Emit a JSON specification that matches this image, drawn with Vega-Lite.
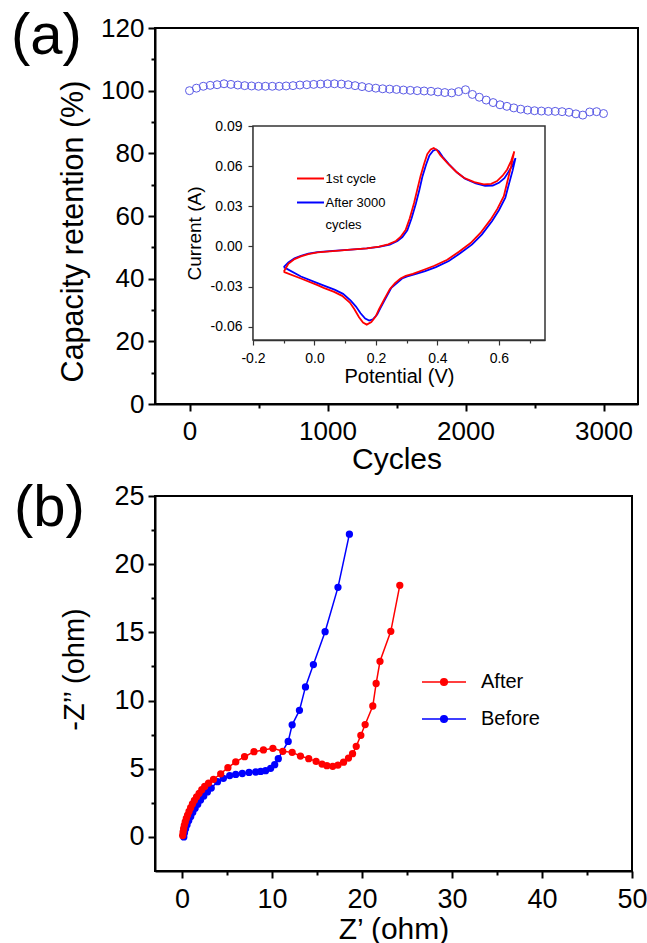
{
  "$schema": "https://vega.github.io/schema/vega-lite/v6.json",
  "background": "white",
  "padding": {"left": 10, "top": 7, "right": 0, "bottom": 0},
  "spacing": 3,
  "config": {
    "font": "Liberation Sans",
    "locale": {"number": {"decimal": ".", "thousands": ",", "grouping": [3], "currency": ["$", ""], "minus": "-"}},
    "view": {"stroke": "black", "strokeWidth": 2},
    "axis": {"labelFont": "Liberation Sans", "titleFont": "Liberation Sans", "titleFontWeight": "normal", "labelColor": "black", "titleColor": "black", "grid": false, "labelOverlap": false, "labelFlush": false, "domainColor": "black", "tickColor": "black"},
    "legend": {"labelFont": "Liberation Sans", "labelColor": "black"},
    "style": {"guide-label": {"lineHeight": 22}}
  },
  "datasets": {
    "retention": [
      {"cycle": 0, "retention": 100.0}, {"cycle": 50, "retention": 100.8}, {"cycle": 100, "retention": 101.4}, {"cycle": 150, "retention": 101.7},
      {"cycle": 200, "retention": 101.9}, {"cycle": 250, "retention": 102.2}, {"cycle": 300, "retention": 102.0}, {"cycle": 350, "retention": 101.8},
      {"cycle": 400, "retention": 101.6}, {"cycle": 450, "retention": 101.5}, {"cycle": 500, "retention": 101.4}, {"cycle": 550, "retention": 101.4},
      {"cycle": 600, "retention": 101.4}, {"cycle": 650, "retention": 101.4}, {"cycle": 700, "retention": 101.5}, {"cycle": 750, "retention": 101.6},
      {"cycle": 800, "retention": 101.8}, {"cycle": 850, "retention": 101.9}, {"cycle": 900, "retention": 102.0}, {"cycle": 950, "retention": 102.1},
      {"cycle": 1000, "retention": 102.2}, {"cycle": 1050, "retention": 102.2}, {"cycle": 1100, "retention": 102.1}, {"cycle": 1150, "retention": 101.9},
      {"cycle": 1200, "retention": 101.6}, {"cycle": 1250, "retention": 101.3}, {"cycle": 1300, "retention": 101.0}, {"cycle": 1350, "retention": 100.8},
      {"cycle": 1400, "retention": 100.6}, {"cycle": 1450, "retention": 100.5}, {"cycle": 1500, "retention": 100.4}, {"cycle": 1550, "retention": 100.2},
      {"cycle": 1600, "retention": 100.1}, {"cycle": 1650, "retention": 100.0}, {"cycle": 1700, "retention": 99.9}, {"cycle": 1750, "retention": 99.8},
      {"cycle": 1800, "retention": 99.6}, {"cycle": 1850, "retention": 99.4}, {"cycle": 1900, "retention": 99.3}, {"cycle": 1950, "retention": 99.7},
      {"cycle": 2000, "retention": 100.3}, {"cycle": 2050, "retention": 98.8}, {"cycle": 2100, "retention": 97.9}, {"cycle": 2150, "retention": 97.0},
      {"cycle": 2200, "retention": 96.2}, {"cycle": 2250, "retention": 95.5}, {"cycle": 2300, "retention": 95.0}, {"cycle": 2350, "retention": 94.5},
      {"cycle": 2400, "retention": 94.1}, {"cycle": 2450, "retention": 93.8}, {"cycle": 2500, "retention": 93.6}, {"cycle": 2550, "retention": 93.5},
      {"cycle": 2600, "retention": 93.4}, {"cycle": 2650, "retention": 93.4}, {"cycle": 2700, "retention": 93.3}, {"cycle": 2750, "retention": 93.1},
      {"cycle": 2800, "retention": 92.6}, {"cycle": 2850, "retention": 92.2}, {"cycle": 2900, "retention": 93.2}, {"cycle": 2950, "retention": 93.3},
      {"cycle": 3000, "retention": 92.7}
    ],
    "cv": [
      {"s": "After 3000 cycles", "o": 0, "v": -0.100, "i": -0.0155},
      {"s": "After 3000 cycles", "o": 1, "v": -0.085, "i": -0.0120},
      {"s": "After 3000 cycles", "o": 2, "v": -0.065, "i": -0.0090},
      {"s": "After 3000 cycles", "o": 3, "v": -0.044, "i": -0.0070},
      {"s": "After 3000 cycles", "o": 4, "v": -0.020, "i": -0.0055},
      {"s": "After 3000 cycles", "o": 5, "v": 0.010, "i": -0.0043},
      {"s": "After 3000 cycles", "o": 6, "v": 0.060, "i": -0.0033},
      {"s": "After 3000 cycles", "o": 7, "v": 0.118, "i": -0.0024},
      {"s": "After 3000 cycles", "o": 8, "v": 0.170, "i": -0.0015},
      {"s": "After 3000 cycles", "o": 9, "v": 0.210, "i": -0.0003},
      {"s": "After 3000 cycles", "o": 10, "v": 0.245, "i": 0.0013},
      {"s": "After 3000 cycles", "o": 11, "v": 0.270, "i": 0.0040},
      {"s": "After 3000 cycles", "o": 12, "v": 0.286, "i": 0.0070},
      {"s": "After 3000 cycles", "o": 13, "v": 0.302, "i": 0.0120},
      {"s": "After 3000 cycles", "o": 14, "v": 0.316, "i": 0.0210},
      {"s": "After 3000 cycles", "o": 15, "v": 0.330, "i": 0.0320},
      {"s": "After 3000 cycles", "o": 16, "v": 0.341, "i": 0.0420},
      {"s": "After 3000 cycles", "o": 17, "v": 0.351, "i": 0.0520},
      {"s": "After 3000 cycles", "o": 18, "v": 0.363, "i": 0.0610},
      {"s": "After 3000 cycles", "o": 19, "v": 0.374, "i": 0.0680},
      {"s": "After 3000 cycles", "o": 20, "v": 0.386, "i": 0.0715},
      {"s": "After 3000 cycles", "o": 21, "v": 0.396, "i": 0.0725},
      {"s": "After 3000 cycles", "o": 22, "v": 0.405, "i": 0.0710},
      {"s": "After 3000 cycles", "o": 23, "v": 0.417, "i": 0.0670},
      {"s": "After 3000 cycles", "o": 24, "v": 0.437, "i": 0.0615},
      {"s": "After 3000 cycles", "o": 25, "v": 0.465, "i": 0.0550},
      {"s": "After 3000 cycles", "o": 26, "v": 0.490, "i": 0.0505},
      {"s": "After 3000 cycles", "o": 27, "v": 0.525, "i": 0.0470},
      {"s": "After 3000 cycles", "o": 28, "v": 0.555, "i": 0.0453},
      {"s": "After 3000 cycles", "o": 29, "v": 0.580, "i": 0.0455},
      {"s": "After 3000 cycles", "o": 30, "v": 0.600, "i": 0.0475},
      {"s": "After 3000 cycles", "o": 31, "v": 0.618, "i": 0.0510},
      {"s": "After 3000 cycles", "o": 32, "v": 0.632, "i": 0.0560},
      {"s": "After 3000 cycles", "o": 33, "v": 0.645, "i": 0.0610},
      {"s": "After 3000 cycles", "o": 34, "v": 0.654, "i": 0.0660},
      {"s": "After 3000 cycles", "o": 35, "v": 0.645, "i": 0.0570},
      {"s": "After 3000 cycles", "o": 36, "v": 0.632, "i": 0.0460},
      {"s": "After 3000 cycles", "o": 37, "v": 0.621, "i": 0.0365},
      {"s": "After 3000 cycles", "o": 38, "v": 0.600, "i": 0.0270},
      {"s": "After 3000 cycles", "o": 39, "v": 0.578, "i": 0.0190},
      {"s": "After 3000 cycles", "o": 40, "v": 0.545, "i": 0.0090},
      {"s": "After 3000 cycles", "o": 41, "v": 0.513, "i": 0.0015},
      {"s": "After 3000 cycles", "o": 42, "v": 0.475, "i": -0.0050},
      {"s": "After 3000 cycles", "o": 43, "v": 0.437, "i": -0.0110},
      {"s": "After 3000 cycles", "o": 44, "v": 0.395, "i": -0.0155},
      {"s": "After 3000 cycles", "o": 45, "v": 0.360, "i": -0.0185},
      {"s": "After 3000 cycles", "o": 46, "v": 0.325, "i": -0.0210},
      {"s": "After 3000 cycles", "o": 47, "v": 0.302, "i": -0.0225},
      {"s": "After 3000 cycles", "o": 48, "v": 0.285, "i": -0.0240},
      {"s": "After 3000 cycles", "o": 49, "v": 0.268, "i": -0.0275},
      {"s": "After 3000 cycles", "o": 50, "v": 0.250, "i": -0.0310},
      {"s": "After 3000 cycles", "o": 51, "v": 0.231, "i": -0.0390},
      {"s": "After 3000 cycles", "o": 52, "v": 0.215, "i": -0.0460},
      {"s": "After 3000 cycles", "o": 53, "v": 0.204, "i": -0.0510},
      {"s": "After 3000 cycles", "o": 54, "v": 0.190, "i": -0.0545},
      {"s": "After 3000 cycles", "o": 55, "v": 0.178, "i": -0.0555},
      {"s": "After 3000 cycles", "o": 56, "v": 0.165, "i": -0.0540},
      {"s": "After 3000 cycles", "o": 57, "v": 0.150, "i": -0.0500},
      {"s": "After 3000 cycles", "o": 58, "v": 0.135, "i": -0.0450},
      {"s": "After 3000 cycles", "o": 59, "v": 0.118, "i": -0.0405},
      {"s": "After 3000 cycles", "o": 60, "v": 0.093, "i": -0.0355},
      {"s": "After 3000 cycles", "o": 61, "v": 0.067, "i": -0.0325},
      {"s": "After 3000 cycles", "o": 62, "v": 0.033, "i": -0.0295},
      {"s": "After 3000 cycles", "o": 63, "v": 0.010, "i": -0.0275},
      {"s": "After 3000 cycles", "o": 64, "v": -0.044, "i": -0.0225},
      {"s": "After 3000 cycles", "o": 65, "v": -0.100, "i": -0.0155},
      {"s": "1st cycle", "o": 0, "v": -0.100, "i": -0.0190},
      {"s": "1st cycle", "o": 1, "v": -0.085, "i": -0.0130},
      {"s": "1st cycle", "o": 2, "v": -0.065, "i": -0.0095},
      {"s": "1st cycle", "o": 3, "v": -0.044, "i": -0.0075},
      {"s": "1st cycle", "o": 4, "v": -0.020, "i": -0.0058},
      {"s": "1st cycle", "o": 5, "v": 0.010, "i": -0.0045},
      {"s": "1st cycle", "o": 6, "v": 0.060, "i": -0.0035},
      {"s": "1st cycle", "o": 7, "v": 0.118, "i": -0.0025},
      {"s": "1st cycle", "o": 8, "v": 0.170, "i": -0.0015},
      {"s": "1st cycle", "o": 9, "v": 0.210, "i": -0.0002},
      {"s": "1st cycle", "o": 10, "v": 0.240, "i": 0.0015},
      {"s": "1st cycle", "o": 11, "v": 0.265, "i": 0.0040},
      {"s": "1st cycle", "o": 12, "v": 0.280, "i": 0.0070},
      {"s": "1st cycle", "o": 13, "v": 0.297, "i": 0.0125},
      {"s": "1st cycle", "o": 14, "v": 0.310, "i": 0.0210},
      {"s": "1st cycle", "o": 15, "v": 0.324, "i": 0.0325},
      {"s": "1st cycle", "o": 16, "v": 0.335, "i": 0.0430},
      {"s": "1st cycle", "o": 17, "v": 0.345, "i": 0.0525},
      {"s": "1st cycle", "o": 18, "v": 0.357, "i": 0.0620},
      {"s": "1st cycle", "o": 19, "v": 0.367, "i": 0.0690},
      {"s": "1st cycle", "o": 20, "v": 0.378, "i": 0.0725},
      {"s": "1st cycle", "o": 21, "v": 0.388, "i": 0.0735},
      {"s": "1st cycle", "o": 22, "v": 0.398, "i": 0.0720},
      {"s": "1st cycle", "o": 23, "v": 0.410, "i": 0.0680},
      {"s": "1st cycle", "o": 24, "v": 0.432, "i": 0.0625},
      {"s": "1st cycle", "o": 25, "v": 0.460, "i": 0.0560},
      {"s": "1st cycle", "o": 26, "v": 0.486, "i": 0.0513},
      {"s": "1st cycle", "o": 27, "v": 0.520, "i": 0.0480},
      {"s": "1st cycle", "o": 28, "v": 0.551, "i": 0.0463},
      {"s": "1st cycle", "o": 29, "v": 0.575, "i": 0.0468},
      {"s": "1st cycle", "o": 30, "v": 0.594, "i": 0.0488},
      {"s": "1st cycle", "o": 31, "v": 0.612, "i": 0.0528},
      {"s": "1st cycle", "o": 32, "v": 0.627, "i": 0.0575},
      {"s": "1st cycle", "o": 33, "v": 0.640, "i": 0.0640},
      {"s": "1st cycle", "o": 34, "v": 0.650, "i": 0.0710},
      {"s": "1st cycle", "o": 35, "v": 0.640, "i": 0.0600},
      {"s": "1st cycle", "o": 36, "v": 0.627, "i": 0.0480},
      {"s": "1st cycle", "o": 37, "v": 0.616, "i": 0.0375},
      {"s": "1st cycle", "o": 38, "v": 0.595, "i": 0.0280},
      {"s": "1st cycle", "o": 39, "v": 0.573, "i": 0.0200},
      {"s": "1st cycle", "o": 40, "v": 0.540, "i": 0.0100},
      {"s": "1st cycle", "o": 41, "v": 0.508, "i": 0.0025},
      {"s": "1st cycle", "o": 42, "v": 0.470, "i": -0.0040},
      {"s": "1st cycle", "o": 43, "v": 0.432, "i": -0.0100},
      {"s": "1st cycle", "o": 44, "v": 0.390, "i": -0.0145},
      {"s": "1st cycle", "o": 45, "v": 0.356, "i": -0.0175},
      {"s": "1st cycle", "o": 46, "v": 0.320, "i": -0.0205},
      {"s": "1st cycle", "o": 47, "v": 0.297, "i": -0.0220},
      {"s": "1st cycle", "o": 48, "v": 0.280, "i": -0.0240},
      {"s": "1st cycle", "o": 49, "v": 0.262, "i": -0.0275},
      {"s": "1st cycle", "o": 50, "v": 0.245, "i": -0.0320},
      {"s": "1st cycle", "o": 51, "v": 0.226, "i": -0.0400},
      {"s": "1st cycle", "o": 52, "v": 0.210, "i": -0.0470},
      {"s": "1st cycle", "o": 53, "v": 0.199, "i": -0.0525},
      {"s": "1st cycle", "o": 54, "v": 0.185, "i": -0.0565},
      {"s": "1st cycle", "o": 55, "v": 0.170, "i": -0.0585},
      {"s": "1st cycle", "o": 56, "v": 0.158, "i": -0.0570},
      {"s": "1st cycle", "o": 57, "v": 0.145, "i": -0.0530},
      {"s": "1st cycle", "o": 58, "v": 0.130, "i": -0.0470},
      {"s": "1st cycle", "o": 59, "v": 0.115, "i": -0.0420},
      {"s": "1st cycle", "o": 60, "v": 0.090, "i": -0.0370},
      {"s": "1st cycle", "o": 61, "v": 0.064, "i": -0.0340},
      {"s": "1st cycle", "o": 62, "v": 0.030, "i": -0.0310},
      {"s": "1st cycle", "o": 63, "v": 0.010, "i": -0.0290},
      {"s": "1st cycle", "o": 64, "v": -0.044, "i": -0.0240},
      {"s": "1st cycle", "o": 65, "v": -0.100, "i": -0.0190}
    ],
    "eis": [
      {"s": "Before", "o": 0, "x": 0.20, "y": 0.00}, {"s": "Before", "o": 1, "x": 0.28, "y": 0.30}, {"s": "Before", "o": 2, "x": 0.40, "y": 0.60},
      {"s": "Before", "o": 3, "x": 0.56, "y": 0.90}, {"s": "Before", "o": 4, "x": 0.75, "y": 1.20}, {"s": "Before", "o": 5, "x": 0.97, "y": 1.50},
      {"s": "Before", "o": 6, "x": 1.20, "y": 1.80}, {"s": "Before", "o": 7, "x": 1.46, "y": 2.10}, {"s": "Before", "o": 8, "x": 1.75, "y": 2.40},
      {"s": "Before", "o": 9, "x": 2.06, "y": 2.70}, {"s": "Before", "o": 10, "x": 2.42, "y": 3.00}, {"s": "Before", "o": 11, "x": 2.82, "y": 3.30},
      {"s": "Before", "o": 12, "x": 3.25, "y": 3.58}, {"s": "Before", "o": 13, "x": 3.95, "y": 4.05}, {"s": "Before", "o": 14, "x": 4.60, "y": 4.30},
      {"s": "Before", "o": 15, "x": 5.30, "y": 4.50}, {"s": "Before", "o": 16, "x": 5.97, "y": 4.58}, {"s": "Before", "o": 17, "x": 6.70, "y": 4.65},
      {"s": "Before", "o": 18, "x": 7.45, "y": 4.73}, {"s": "Before", "o": 19, "x": 8.19, "y": 4.76}, {"s": "Before", "o": 20, "x": 8.74, "y": 4.80},
      {"s": "Before", "o": 21, "x": 9.29, "y": 4.86}, {"s": "Before", "o": 22, "x": 9.85, "y": 5.03}, {"s": "Before", "o": 23, "x": 10.30, "y": 5.30},
      {"s": "Before", "o": 24, "x": 10.70, "y": 5.74}, {"s": "Before", "o": 25, "x": 11.80, "y": 7.00}, {"s": "Before", "o": 26, "x": 12.24, "y": 8.22},
      {"s": "Before", "o": 27, "x": 13.05, "y": 9.28}, {"s": "Before", "o": 28, "x": 13.72, "y": 11.00}, {"s": "Before", "o": 29, "x": 14.60, "y": 12.64},
      {"s": "Before", "o": 30, "x": 15.90, "y": 15.05}, {"s": "Before", "o": 31, "x": 17.33, "y": 18.30}, {"s": "Before", "o": 32, "x": 18.60, "y": 22.20},
      {"s": "After", "o": 0, "x": 0.07, "y": 0.10}, {"s": "After", "o": 1, "x": 0.12, "y": 0.35}, {"s": "After", "o": 2, "x": 0.18, "y": 0.60},
      {"s": "After", "o": 3, "x": 0.26, "y": 0.85}, {"s": "After", "o": 4, "x": 0.36, "y": 1.10}, {"s": "After", "o": 5, "x": 0.48, "y": 1.35},
      {"s": "After", "o": 6, "x": 0.62, "y": 1.60}, {"s": "After", "o": 7, "x": 0.78, "y": 1.87}, {"s": "After", "o": 8, "x": 0.96, "y": 2.14},
      {"s": "After", "o": 9, "x": 1.16, "y": 2.42}, {"s": "After", "o": 10, "x": 1.38, "y": 2.68}, {"s": "After", "o": 11, "x": 1.62, "y": 2.94},
      {"s": "After", "o": 12, "x": 1.90, "y": 3.20}, {"s": "After", "o": 13, "x": 2.20, "y": 3.46}, {"s": "After", "o": 14, "x": 2.52, "y": 3.70},
      {"s": "After", "o": 15, "x": 2.95, "y": 3.95}, {"s": "After", "o": 16, "x": 3.50, "y": 4.22}, {"s": "After", "o": 17, "x": 4.30, "y": 4.63},
      {"s": "After", "o": 18, "x": 5.10, "y": 5.08}, {"s": "After", "o": 19, "x": 5.97, "y": 5.50}, {"s": "After", "o": 20, "x": 6.95, "y": 5.88},
      {"s": "After", "o": 21, "x": 8.00, "y": 6.25}, {"s": "After", "o": 22, "x": 9.05, "y": 6.38}, {"s": "After", "o": 23, "x": 10.10, "y": 6.50},
      {"s": "After", "o": 24, "x": 11.20, "y": 6.28}, {"s": "After", "o": 25, "x": 12.24, "y": 6.20}, {"s": "After", "o": 26, "x": 13.16, "y": 5.93},
      {"s": "After", "o": 27, "x": 14.08, "y": 5.74}, {"s": "After", "o": 28, "x": 14.90, "y": 5.54}, {"s": "After", "o": 29, "x": 15.56, "y": 5.34},
      {"s": "After", "o": 30, "x": 16.10, "y": 5.22}, {"s": "After", "o": 31, "x": 16.75, "y": 5.18}, {"s": "After", "o": 32, "x": 17.33, "y": 5.27},
      {"s": "After", "o": 33, "x": 17.95, "y": 5.48}, {"s": "After", "o": 34, "x": 18.50, "y": 5.78}, {"s": "After", "o": 35, "x": 18.95, "y": 6.10},
      {"s": "After", "o": 36, "x": 19.36, "y": 6.64}, {"s": "After", "o": 37, "x": 19.87, "y": 7.45}, {"s": "After", "o": 38, "x": 20.35, "y": 8.24},
      {"s": "After", "o": 39, "x": 21.20, "y": 9.60}, {"s": "After", "o": 40, "x": 21.57, "y": 11.25}, {"s": "After", "o": 41, "x": 22.00, "y": 12.88},
      {"s": "After", "o": 42, "x": 23.20, "y": 15.08}, {"s": "After", "o": 43, "x": 24.20, "y": 18.45}
    ]
  },
  "resolve": {"scale": {"color": "independent", "stroke": "independent", "fill": "independent"}},
  "vconcat": [
    {
      "width": 483,
      "height": 376,
      "title": {"text": "(a)", "anchor": "start", "frame": "group", "orient": "top", "offset": 0, "fontSize": 58, "font": "Liberation Sans", "fontWeight": "normal", "color": "black", "dx": -144, "dy": 51},
      "layer": [
        {
          "data": {"name": "retention"},
          "mark": {"type": "point", "shape": "circle", "filled": false, "size": 64, "strokeWidth": 1, "color": "#5b5be6", "opacity": 1},
          "encoding": {
            "x": {"field": "cycle", "type": "quantitative", "scale": {"domain": [-250, 3250], "nice": false, "zero": false},
              "axis": {"title": "Cycles", "orient": "bottom", "values": [0, 500, 1000, 1500, 2000, 2500, 3000], "format": "d",
                "labelExpr": "datum.value % 1000 == 0 ? datum.label : ''",
                "tickSize": {"condition": {"test": "datum.value % 1000 == 0", "value": 7}, "value": 4},
                "tickWidth": 2, "domainWidth": 2, "labelFontSize": 26, "titleFontSize": 30, "labelPadding": 7.5, "titlePadding": 0}},
            "y": {"field": "retention", "type": "quantitative", "scale": {"domain": [0, 120], "nice": false, "zero": false},
              "axis": {"title": "Capacity retention (%)", "orient": "left", "values": [0, 10, 20, 30, 40, 50, 60, 70, 80, 90, 100, 110, 120],
                "labelExpr": "datum.value % 20 == 0 ? datum.label : ''",
                "tickSize": {"condition": {"test": "datum.value % 20 == 0", "value": 7}, "value": 4},
                "tickWidth": 2, "domainWidth": 2, "labelFontSize": 26, "titleFontSize": 30.5, "labelPadding": 4, "titlePadding": 14, "titleX": -67, "titleY": 203}}
          }
        },
        {
          "layer": [
            {
              "data": {"values": [{}]},
              "mark": {"type": "rect", "fill": "white", "stroke": "#333333", "strokeWidth": 1.5},
              "encoding": {
                "x": {"datum": -0.2, "type": "quantitative", "title": "Potential (V)"},
                "x2": {"datum": 0.75},
                "y": {"datum": -0.07, "type": "quantitative", "title": "Current (A)"},
                "y2": {"datum": 0.09}
              }
            },
            {
              "data": {"name": "cv"},
              "mark": {"type": "line", "strokeWidth": 1.8, "interpolate": "linear"},
              "encoding": {
                "x": {"field": "v", "type": "quantitative", "scale": {"domain": [-0.2, 0.75], "range": [98, 390], "nice": false, "zero": false},
                  "axis": {"title": "Potential (V)", "orient": "bottom", "offset": -64, "values": [-0.2, -0.1, 0, 0.1, 0.2, 0.3, 0.4, 0.5, 0.6, 0.7], "format": ".1f",
                    "labelExpr": "abs(round(datum.value*10)) % 2 == 0 ? datum.label : ''",
                    "tickSize": {"condition": {"test": "abs(round(datum.value*10)) % 2 == 0", "value": 5}, "value": 3},
                    "domainColor": "#333333", "domainWidth": 1.5, "tickColor": "#333333", "tickWidth": 1.2,
                    "labelFontSize": 14, "titleFontSize": 20, "labelPadding": 6, "titlePadding": 1}},
                "y": {"field": "i", "type": "quantitative", "scale": {"domain": [-0.07, 0.09], "range": [312, 98], "nice": false, "zero": false},
                  "axis": {"title": "Current (A)", "orient": "left", "offset": -98, "values": [-0.06, -0.045, -0.03, -0.015, 0, 0.015, 0.03, 0.045, 0.06, 0.075, 0.09], "format": ".2f",
                    "labelExpr": "abs(round(datum.value*1000/15)) % 2 == 0 ? datum.label : ''",
                    "tickSize": {"condition": {"test": "abs(round(datum.value*1000/15)) % 2 == 0", "value": 5}, "value": 3},
                    "domainColor": "#333333", "domainWidth": 1.5, "tickColor": "#333333", "tickWidth": 1.2,
                    "labelFontSize": 14, "titleFontSize": 19, "labelPadding": 6, "titlePadding": 6}},
                "color": {"field": "s", "type": "nominal", "scale": {"domain": ["1st cycle", "After 3000 cycles"], "range": ["#ff0000", "#0000ff"]},
                  "legend": {"title": null, "orient": "none", "legendX": 141, "legendY": 136, "padding": 0, "symbolType": "stroke", "symbolSize": 729, "symbolStrokeWidth": 2,
                    "labelFontSize": 13, "labelOffset": 0.5, "rowPadding": 2,
                    "labelExpr": "datum.label == 'After 3000 cycles' ? ['After 3000', ' cycles'] : datum.label"}},
                "order": {"field": "o", "type": "quantitative"}
              }
            }
          ]
        }
      ],
      "resolve": {"scale": {"x": "independent", "y": "independent"}}
    },
    {
      "width": 477,
      "height": 375,
      "title": {"text": "(b)", "anchor": "start", "frame": "group", "orient": "top", "offset": 0, "fontSize": 58, "font": "Liberation Sans", "fontWeight": "normal", "color": "black", "dx": -141, "dy": 56},
      "data": {"name": "eis"},
      "encoding": {
        "x": {"field": "x", "type": "quantitative", "scale": {"domain": [-3, 50], "nice": false, "zero": false},
          "axis": {"title": "Z’ (ohm)", "orient": "bottom", "values": [0, 5, 10, 15, 20, 25, 30, 35, 40, 45, 50],
            "labelExpr": "datum.value % 10 == 0 ? datum.label : ''",
            "tickSize": {"condition": {"test": "datum.value % 10 == 0", "value": 7}, "value": 4},
            "tickWidth": 2, "domainWidth": 2, "labelFontSize": 27, "titleFontSize": 30, "labelPadding": 8, "titlePadding": 2}},
        "y": {"field": "y", "type": "quantitative", "scale": {"domain": [-2.5, 25], "nice": false, "zero": false},
          "axis": {"title": "-Z’’ (ohm)", "orient": "left", "values": [0, 2.5, 5, 7.5, 10, 12.5, 15, 17.5, 20, 22.5, 25],
            "labelExpr": "datum.value % 5 == 0 ? datum.label : ''",
            "tickSize": {"condition": {"test": "datum.value % 5 == 0", "value": 7}, "value": 4},
            "tickWidth": 2, "domainWidth": 2, "labelFontSize": 27, "titleFontSize": 29, "labelPadding": 4, "titlePadding": 27, "titleX": -66, "titleY": 173}}
      },
      "layer": [
        {
          "mark": {"type": "line", "strokeWidth": 1.5},
          "encoding": {
            "stroke": {"field": "s", "type": "nominal", "scale": {"domain": ["After", "Before"], "range": ["#ff0000", "#0000ff"]},
              "legend": {"title": null, "orient": "none", "legendX": 266, "legendY": 163, "padding": 0,
                "symbolType": "M-1,0L1,0M-0.15,0A0.15,0.15 0 1 0 0.15,0A0.15,0.15 0 1 0 -0.15,0Z", "symbolSize": 1936, "symbolStrokeWidth": 1.5,
                "labelFontSize": 20, "labelOffset": 14, "rowPadding": 4}},
            "order": {"field": "o", "type": "quantitative"}
          }
        },
        {
          "mark": {"type": "point", "shape": "circle", "filled": true, "size": 53, "opacity": 1, "strokeWidth": 0},
          "encoding": {
            "fill": {"field": "s", "type": "nominal", "scale": {"domain": ["After", "Before"], "range": ["#ff0000", "#0000ff"]},
              "legend": {"title": null, "orient": "none", "legendX": 266, "legendY": 163, "padding": 0,
                "symbolType": "M-1,0L1,0M-0.15,0A0.15,0.15 0 1 0 0.15,0A0.15,0.15 0 1 0 -0.15,0Z", "symbolSize": 1936, "symbolStrokeWidth": 1.5,
                "labelFontSize": 20, "labelOffset": 14, "rowPadding": 4}}
          }
        }
      ]
    }
  ]
}
